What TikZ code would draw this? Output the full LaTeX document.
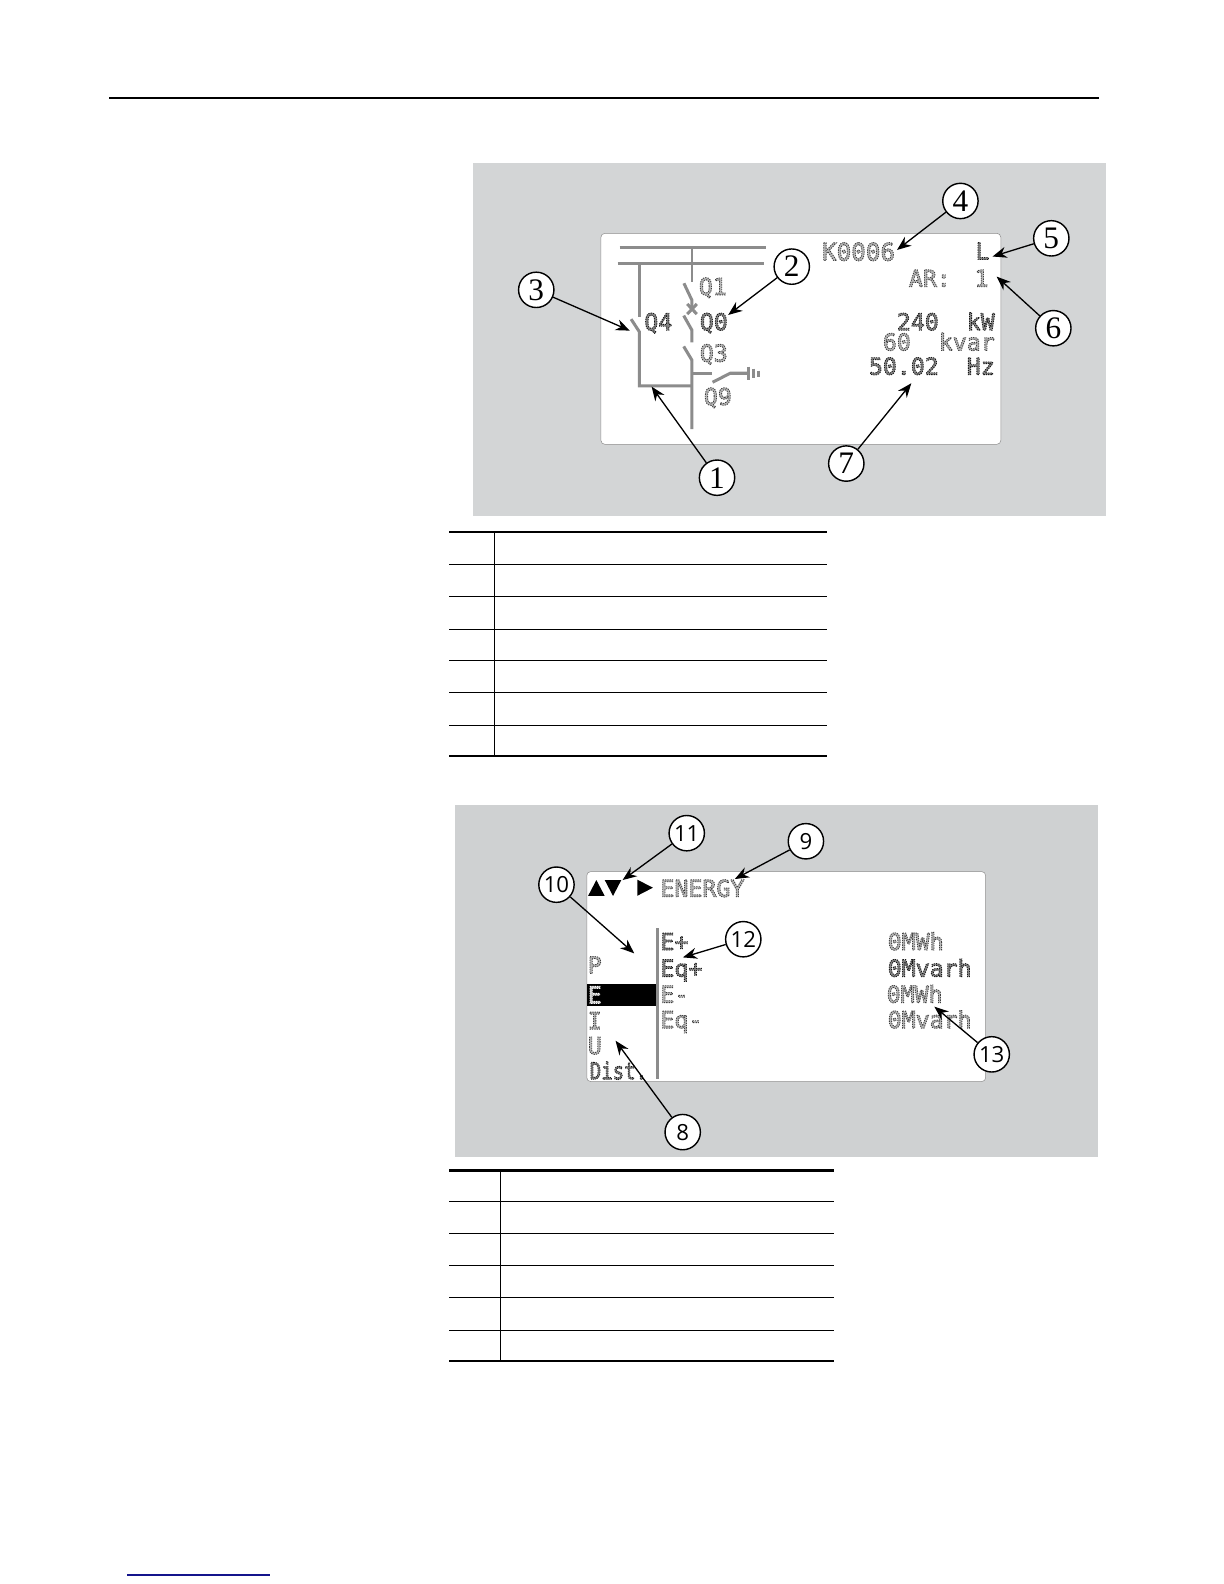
\documentclass[tikz,border=0pt]{standalone}
\usepackage{fontspec}
\setmainfont{Liberation Serif}
\newfontfamily\lcdfont{DejaVu Sans Mono}
\newfontfamily\calloutsans{Open Sans}
\usetikzlibrary{arrows.meta}
\definecolor{panelA}{HTML}{D3D5D6}
\definecolor{panelB}{HTML}{CFD1D2}
\definecolor{lcdline}{HTML}{8C8C8C}
\definecolor{lcddark}{HTML}{181818}
\definecolor{lcdmid}{HTML}{404040}
\definecolor{linkblue}{HTML}{14148C}
\newcommand{\lcdon}[1]{\special{pdf:code 2 Tr #1 g [1.3 1.0] 0 d 0.85 w}}
\newcommand{\lcdoff}{\special{pdf:code 0 Tr [] 0 d}}
\newcommand{\lm}[1]{\lcdon{0.72}#1\lcdoff}
\newcommand{\ld}[1]{\lcdon{0.52}#1\lcdoff}
\newcommand{\lw}[1]{\lcdon{0.8}#1\lcdoff}
\tikzset{
  screen/.style={fill=white,draw=black!45,line width=.5pt,rounded corners=4pt},
  bus/.style={draw=lcdline,line width=3.2pt},
  wire/.style={draw=lcdline,line width=3pt},
  thinwire/.style={draw=lcdline,line width=2.4pt},
  lcd/.style={anchor=base west,inner sep=0pt,outer sep=0pt,text=lcdmid,font=\lcdfont\fontsize{23}{23}\selectfont},
  lcdd/.style={lcd,text=lcddark},
  lcdw/.style={lcd,text=white},
  callout/.style={circle,draw=black,fill=white,line width=1.4pt,minimum size=35pt,inner sep=0pt,font=\fontsize{31}{31}\selectfont},
  calloutb/.style={callout,font=\calloutsans\fontsize{22}{22}\selectfont},
  arr/.style={draw=black,line width=1.3pt,-{Stealth[length=14pt,width=11pt]}},
  tabmajor/.style={draw=black,line width=2pt},
  tabminor/.style={draw=black,line width=1pt},
}
\begin{document}
\begin{tikzpicture}[x=1pt,y=-1pt]
\useasboundingbox (0,0) rectangle (1212,1568.47);
\fill[white] (0,0) rectangle (1212,1568.47);
% page rules
\draw[black,line width=2.8pt] (108,97) -- (1088,97);
\draw[linkblue,line width=1.1pt] (126,1559.5) -- (267,1559.5);
% panels
\fill[panelA] (468,161) rectangle (1095,511);
\fill[panelB] (451,797) rectangle (1087,1146);
\draw[screen] (595,231) rectangle (991,440);
\draw[screen] (581,863) rectangle (976,1071);
% single line diagram
\draw[bus] (613.5,245) -- (758.4,245);
\draw[bus] (611.5,260.7) -- (756.8,260.7);
\draw[thinwire] (685,245) -- (685,279);
\draw[wire] (677.2,280.5) -- (685,297) -- (685,306);
\draw[wire] (680.5,301) -- (690,311) (690,301) -- (680.5,311);
\draw[wire] (677,312.5) -- (685,326.7) -- (685,339);
\draw[wire] (677,343) -- (685,356.4) -- (685,425);
\draw[wire] (633,260.7) -- (633,313.5);
\draw[wire] (624.9,316) -- (633,328.4) -- (633,382) -- (685,382);
\draw[wire] (685,369.6) -- (705,369.6);
\draw[wire] (705.6,378.5) -- (723,369.6) -- (741.3,369.6);
\draw[wire] (741.3,363) -- (741.3,376);
\draw[wire] (746.2,365) -- (746.2,374);
\draw[wire] (750.7,367) -- (750.7,373);
% first screen texts
\node[lcd,font=\lcdfont\fontsize{24}{24}\selectfont] (k) at (814,258) {\lm{K0006}};
\node[lcdd] (l) at (966,257) {\ld{L}};
\node[lcd] (ar) at (900,284) {\lm{AR:}};
\node[lcd] (one) at (965,284) {\lm{1}};
\node[lcd] (q1) at (692,292) {\lm{Q1}};
\node[lcdd] (q4) at (638,327) {\ld{Q4}};
\node[lcdd] (q0) at (693,327) {\ld{Q0}};
\node[lcd] (q3) at (693,358) {\lm{Q3}};
\node[lcd] (q9) at (697,401) {\lm{Q9}};
\node[lcdd,anchor=base east] (kw) at (985,327) {\ld{240~~kW}};
\node[lcd,anchor=base east] (kvar) at (985,347) {\lm{60~~kvar}};
\node[lcdd,anchor=base east] (hz) at (985,371) {\ld{50.02~~Hz}};
% second screen
\fill[black] (581.5,974.4) rectangle (650,996);
\draw[draw=lcdline,line width=3pt] (650.6,919) -- (650.6,1068);
\fill[black] (582.3,887.2) -- (590.5,871.4) -- (598.8,887.2) -- cycle;
\fill[black] (598.8,871.4) -- (615.2,871.4) -- (607,887.2) -- cycle;
\fill[black] (631,871) -- (646.5,879) -- (631,887) -- cycle;
\node[lcd] (energy) at (654,888) {\lm{ENERGY}};
\node[lcd] (mp) at (582,964) {\lm{P}};
\node[lcdw] (me) at (582,993.5) {\lw{E}};
\node[lcd] (mi) at (582,1019) {\lm{I}};
\node[lcd] (mu) at (582,1043.7) {\lm{U}};
\node[lcdd,xscale=.82,transform shape] (md) at (584,1068.7) {\ld{Dist.}};
\node[lcdd] (e1) at (654,940.7) {\ld{E+}};
\node[lcdd] (e2) at (654,967) {\ld{Eq+}};
\node[lcd] (e3) at (654,992.8) {\lm{E-}};
\node[lcd] (e4) at (654,1018) {\lm{Eq-}};
\node[lcd] (v1) at (879,940.7) {\lm{0MWh}};
\node[lcdd] (v2) at (879,967) {\ld{0Mvarh}};
\node[lcd] (v3) at (878,992.8) {\lm{0MWh}};
\node[lcd] (v4) at (879,1018) {\lm{0Mvarh}};
% callouts
\node[callout] (c1) at (710,473) {1};
\node[callout] (c2) at (784,264) {2};
\node[callout] (c3) at (531,287) {3};
\node[callout] (c4) at (951,199) {4};
\node[callout] (c5) at (1041,236) {5};
\node[callout] (c6) at (1043,325) {6};
\node[callout] (c7) at (838,459) {7};
\node[calloutb] (c8) at (676,1121) {8};
\node[calloutb] (c9) at (798,833) {9};
\node[calloutb] (c10) at (551,876) {10};
\node[calloutb] (c11) at (680,825) {11};
\node[calloutb] (c12) at (736,930) {12};
\node[calloutb] (c13) at (982,1044) {13};
\coordinate (t1) at (645.2,382.8);
\coordinate (t2) at (721,311.9);
\coordinate (t3) at (623.7,327.4);
\coordinate (t4) at (888.2,247.5);
\coordinate (t5) at (982.8,254);
\coordinate (t6) at (986.9,273.9);
\coordinate (t7) at (902.4,379.5);
\coordinate (t8) at (609.5,1030.5);
\coordinate (t9) at (727.6,870.4);
\coordinate (t10) at (628,944);
\coordinate (t11) at (616.5,871.4);
\coordinate (t12) at (676.2,948);
\coordinate (t13) at (925.2,996.8);
\foreach \n in {1,...,13} {\draw[arr] (c\n) -- (t\n);}
% table 1
\draw[tabmajor] (445,527) -- (819,527) (445,749) -- (819,749);
\foreach \yy in {559,591,623,654,686,718} {\draw[tabminor] (445,\yy) -- (819,\yy);}
\draw[tabminor] (489.5,527) -- (489.5,749);
% table 2
\draw[tabmajor] (445,1159) -- (826,1159) (445,1348) -- (826,1348);
\foreach \yy in {1190,1221,1253,1285,1317} {\draw[tabminor] (445,\yy) -- (826,\yy);}
\draw[tabminor] (495.5,1159) -- (495.5,1348);
\end{tikzpicture}
\end{document}
